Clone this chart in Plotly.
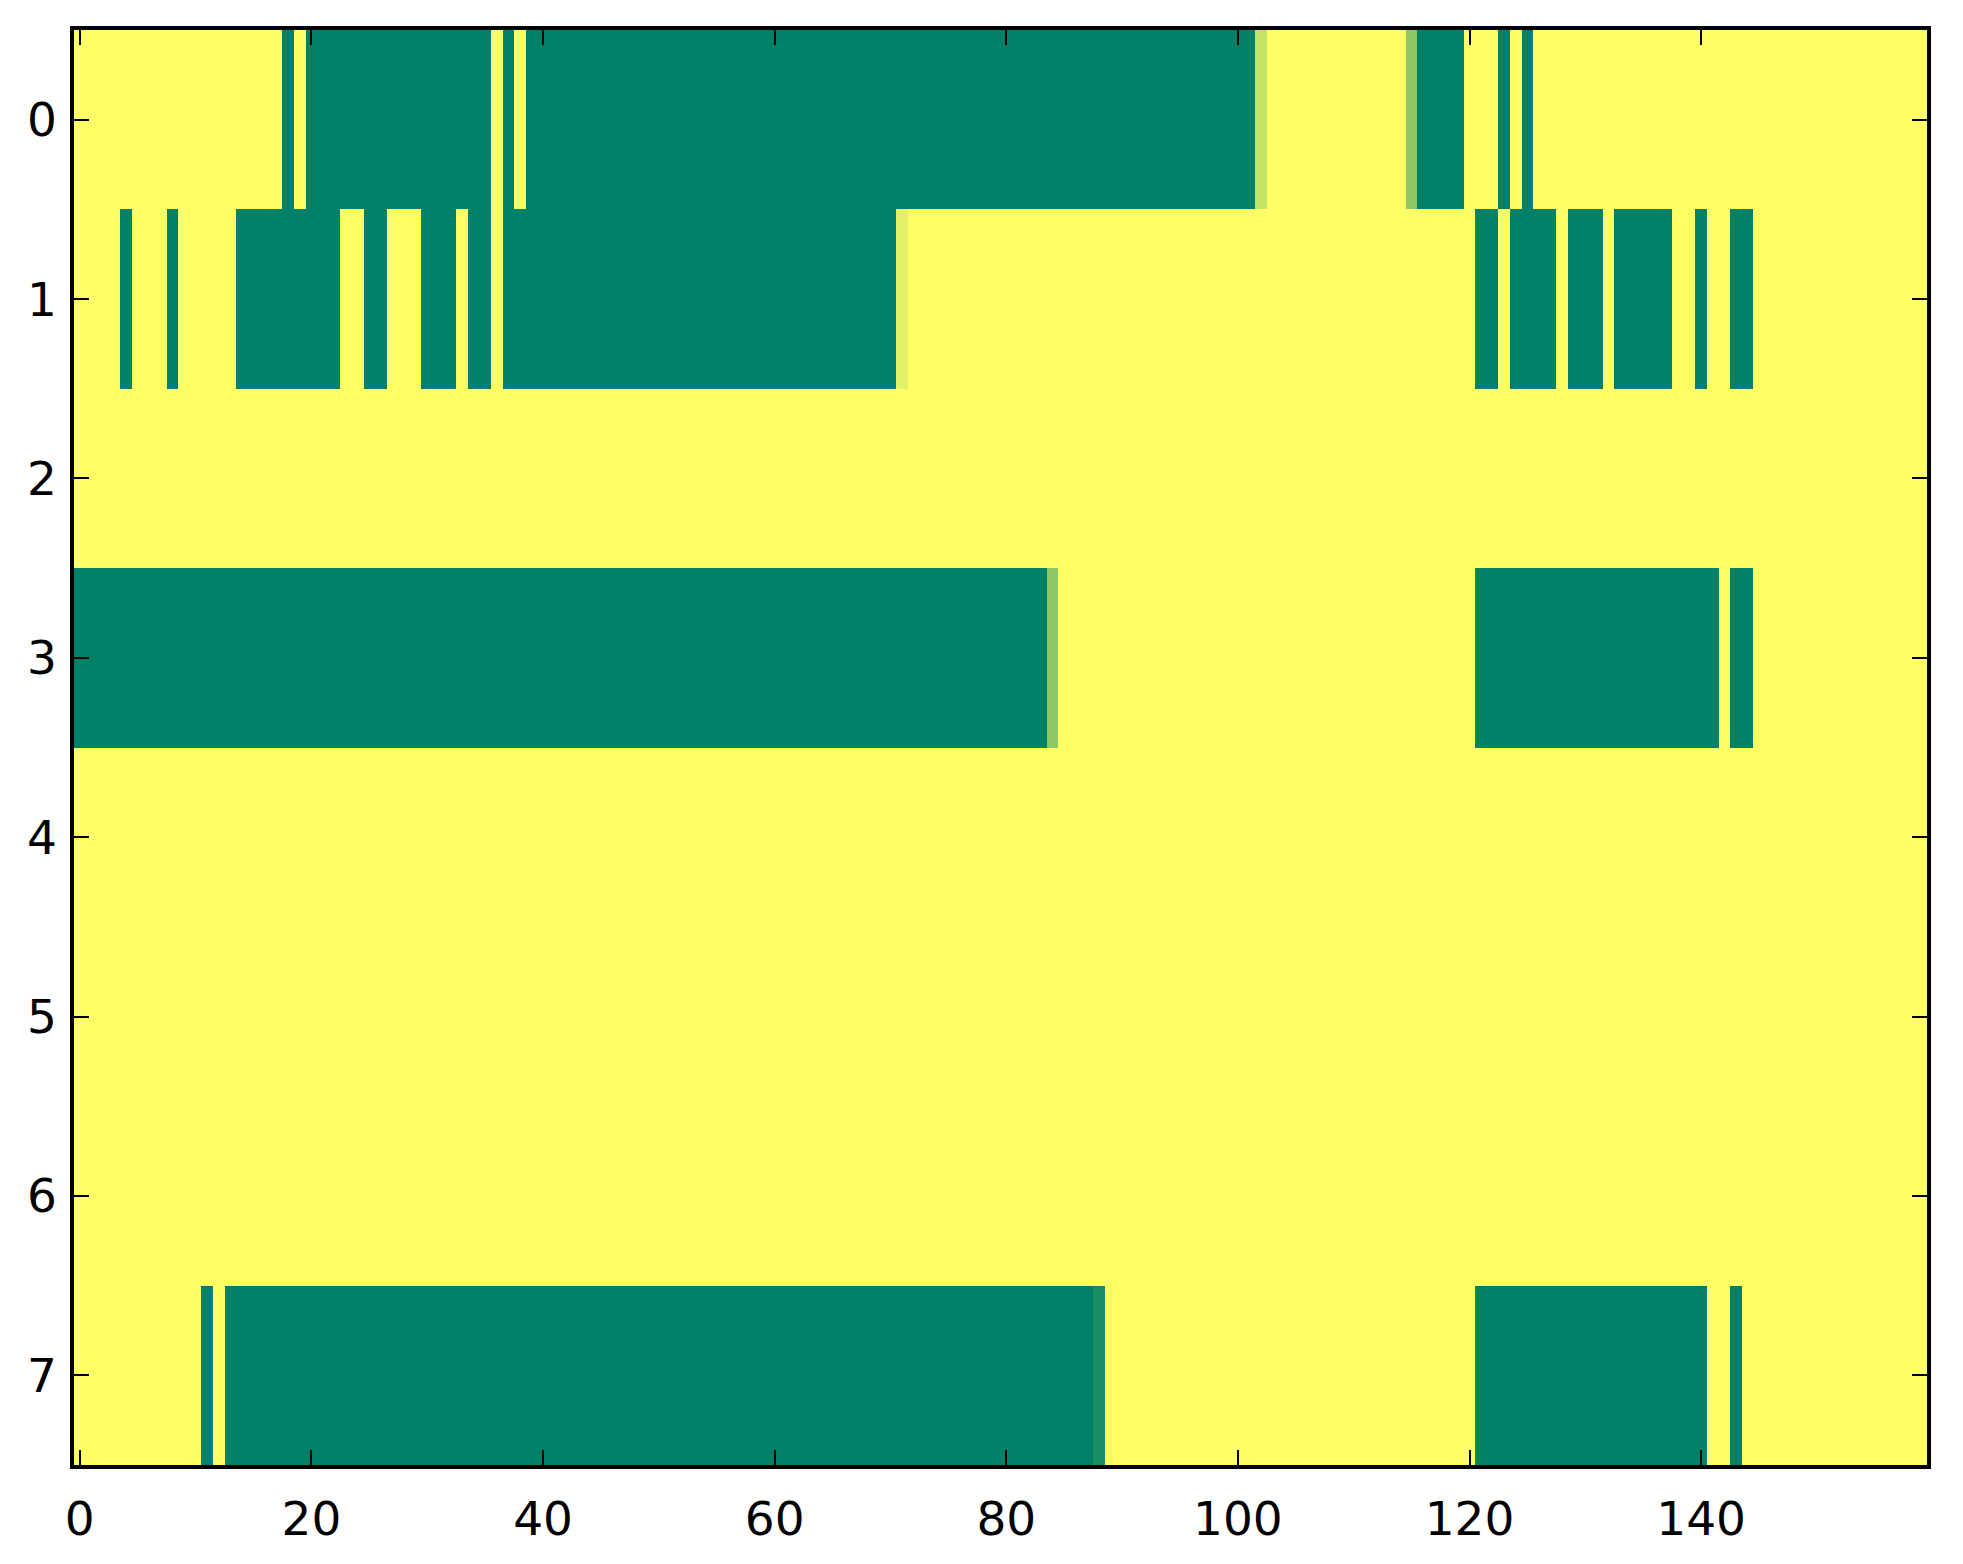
import plotly.graph_objects as go

# heatmap rows read off the picture as runs of (length, value)
# value 0 = dark green, 1 = yellow, fractions = the lighter greens
ROW0_RUNS = [(18, 1), (1, 0), (1, 1), (16, 0), (1, 1), (1, 0), (1, 1), (63, 0),
             (1, 0.78), (12, 1), (1, 0.56), (4, 0), (3, 1), (1, 0), (1, 1), (1, 0), (34, 1)]
ROW1_RUNS = [(4, 1), (1, 0), (3, 1), (1, 0), (5, 1), (9, 0), (2, 1), (2, 0), (3, 1),
             (3, 0), (1, 1), (2, 0), (1, 1), (34, 0), (1, 0.89), (49, 1), (2, 0), (1, 1),
             (4, 0), (1, 1), (3, 0), (1, 1), (5, 0), (2, 1), (1, 0), (2, 1), (2, 0), (15, 1)]
ROW2_RUNS = [(160, 1)]
ROW3_RUNS = [(84, 0), (1, 0.56), (36, 1), (21, 0), (1, 1), (2, 0), (15, 1)]
ROW4_RUNS = [(160, 1)]
ROW5_RUNS = [(160, 1)]
ROW6_RUNS = [(160, 1)]
ROW7_RUNS = [(11, 1), (1, 0), (1, 1), (75, 0), (1, 0.11), (32, 1), (20, 0), (2, 1),
             (1, 0), (16, 1)]

ROWS = [ROW0_RUNS, ROW1_RUNS, ROW2_RUNS, ROW3_RUNS,
        ROW4_RUNS, ROW5_RUNS, ROW6_RUNS, ROW7_RUNS]

X_TICKS = [0, 20, 40, 60, 80, 100, 120, 140]
Y_TICKS = [0, 1, 2, 3, 4, 5, 6, 7]

# matplotlib "summer" colormap
SUMMER = [[0.0, "rgb(0,128,102)"], [1.0, "rgb(255,255,102)"]]


def expand(runs):
    out = []
    for n, v in runs:
        out.extend([v] * n)
    return out


z = [expand(r) for r in ROWS]
n_cols = len(z[0])

fig = go.Figure(go.Heatmap(
    z=z,
    x=list(range(n_cols)),
    y=list(range(len(z))),
    colorscale=SUMMER, zmin=0, zmax=1,
    showscale=False, hoverinfo="skip"
))

axis_style = dict(
    showline=True, linecolor="black", linewidth=3.5, mirror="allticks",
    ticks="inside", ticklen=15, tickwidth=1.5, tickcolor="black",
    showgrid=False, zeroline=False,
    tickfont=dict(family="DejaVu Sans", size=47, color="black"),
)

fig.update_xaxes(range=[-0.5, n_cols - 0.5], tickvals=X_TICKS,
                 ticklabelstandoff=10, **axis_style)
fig.update_yaxes(range=[len(z) - 0.5, -0.5], tickvals=Y_TICKS,
                 ticklabelstandoff=4, **axis_style)

# page body has an 8px margin, so the plot box is pulled back by that much
fig.update_layout(
    width=1963, height=1564,
    margin=dict(l=66, r=44, t=22, b=107),
    paper_bgcolor="white", plot_bgcolor="white",
)

fig.write_html("out.html")
